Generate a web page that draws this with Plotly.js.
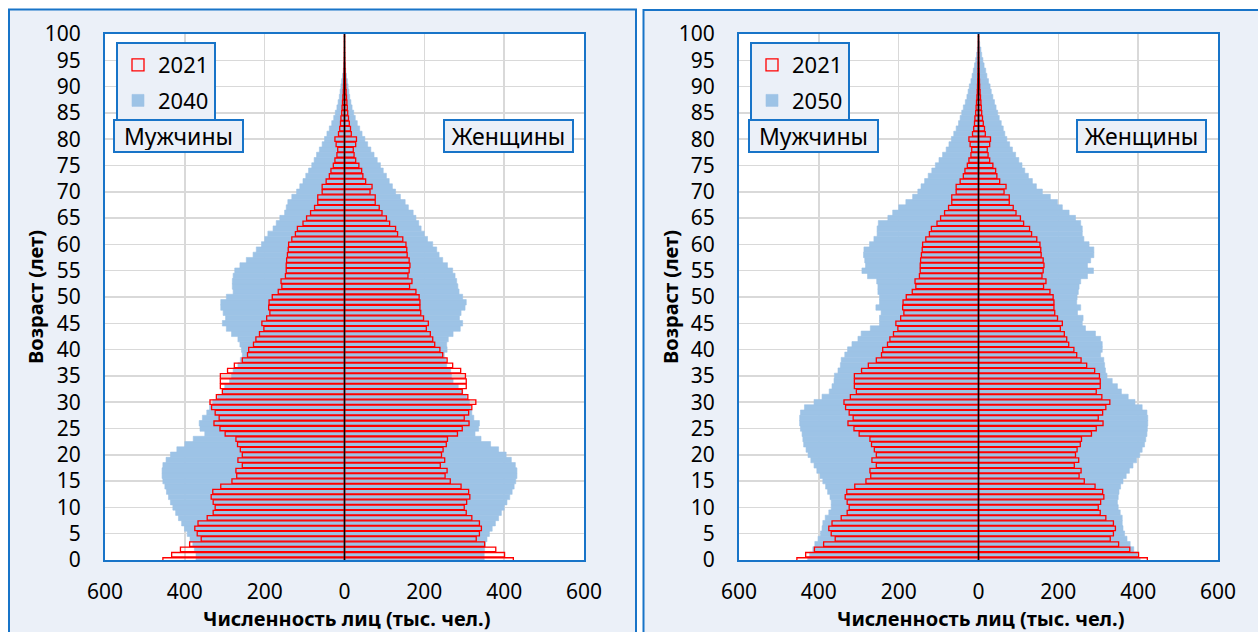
<!DOCTYPE html>
<html>
<head>
<meta charset="utf-8">
<script src="https://cdn.plot.ly/plotly-3.0.1.min.js"></script>
<style>
html,body{margin:0;padding:0;background:#ffffff;}
#chart{width:1258px;height:632px;}
</style>
</head>
<body>
<div id="chart"></div>
<script>
// ---------- DATA ----------
const ages = [0,1,2,3,4,5,6,7,8,9,10,11,12,13,14,15,16,17,18,19,20,21,22,23,24,25,26,27,28,29,30,31,32,33,34,35,36,37,38,39,40,41,42,43,44,45,46,47,48,49,50,51,52,53,54,55,56,57,58,59,60,61,62,63,64,65,66,67,68,69,70,71,72,73,74,75,76,77,78,79,80,81,82,83,84,85,86,87,88,89,90,91,92,93,94,95,96,97,98,99,100];

// 2021, thousand persons
const male2021 = [455,433,411,388,359,369,375,367,344,329,
  324,329,334,330,310,282,270,272,256,267,
  256,261,268,272,299,312,327,314,324,333,
  337,321,306,311,311,311,293,276,256,243,
  240,228,222,213,202,207,195,187,190,189,
  181,166,157,159,148,146,146,145,143,141,
  140,132,123,118,104,95,85,75,67,67,
  56,56,46,38,34,28,24,19,17,21,
  24,15,12,10,9,7,6,5,4,3,
  2.5,2,1.5,1,0.7,0.5,0.3,0.2,0.1,0.1,
  0.1];
const female2021 = [423,401,379,351,330,338,343,338,319,305,
  300,306,314,311,292,265,252,257,240,251,
  243,247,255,258,283,295,312,300,311,319,
  329,309,295,305,305,303,291,271,257,246,
  239,226,221,215,205,210,198,191,189,189,
  187,179,163,169,159,162,164,162,157,156,
  154,146,133,128,113,105,94,87,77,77,
  64,69,53,46,43,36,28,24,22,28,
  30,17,15,12,10,8,7,6,5,4,
  3,2.5,2,1.5,1,0.7,0.5,0.3,0.2,0.1,
  0.1];

// 2040
const male2040 = [372,372,376,380,387,394,401,408,416,423,
  430,436,441,446,450,455,457,457,455,447,
  436,420,400,379,350,362,364,356,345,338,
  330,318,305,300,288,283,279,267,261,256,
  258,262,267,283,296,306,298,304,310,310,
  296,279,281,281,279,275,262,246,229,221,
  208,200,192,179,171,162,150,146,142,132,
  120,112,104,97,90,82,76,70,63,56,
  50,44,38,32,27,23,19,16,13,11,
  9,7,5,3,2,1,0.5,0,0,0,
  0];
const female2040 = [350,350,351,353,357,363,370,378,386,393,
  400,407,414,420,425,429,432,432,428,418,
  405,386,366,342,327,336,338,324,319,316,
  313,306,296,285,272,268,266,256,254,250,
  257,256,260,272,290,296,288,292,302,305,
  296,287,284,281,277,271,258,246,237,231,
  221,208,200,192,186,179,172,160,152,140,
  128,120,112,105,97,90,82,74,66,58,
  51,44,38,32,27,23,19,16,13,11,
  9,7,5,3,2,1,0.5,0,0,0,
  0];

// 2050
const male2050 = [428,423,415,410,402,396,392,390,384,375,
  369,369,372,378,383,390,397,405,412,420,
  427,432,438,440,442,446,448,448,446,436,
  412,392,374,367,362,361,352,346,344,335,
  328,317,302,294,271,248,248,244,257,248,
  248,252,252,255,278,292,283,285,288,287,
  273,262,254,254,251,227,215,200,182,165,
  152,144,135,126,117,108,99,90,81,74,
  68,62,56,50,46,42,38,33,29,26,
  23,19,16,13,10,7,5,3,1.5,0.8,
  0.3];
const female2050 = [405,398,389,380,372,366,362,360,360,355,
  350,348,350,352,356,362,370,378,387,396,
  404,410,416,419,422,423,424,424,422,410,
  392,375,358,348,335,322,318,316,314,306,
  310,310,306,293,268,260,262,248,256,246,
  247,250,252,256,273,288,273,281,289,289,
  277,264,260,260,256,243,227,210,198,180,
  160,145,135,125,116,109,101,93,85,78,
  71,66,62,57,52,48,44,40,36,32,
  29,25,21,18,14,11,8,6,3,1.5,
  0.5];

const xTickVals = [-600,-400,-200,0,200,400,600];
const xTickText = ['600','400','200','0','200','400','600'];
const legendCurrent = '2021';
const legendFuture = ['2040','2050'];
const sexLabels = ['Мужчины','Женщины'];
const xTitle = 'Численность лиц (тыс. чел.)';
const yTitle = 'Возраст (лет)';

// ---------- STYLE / LAYOUT ----------
const W = 1258, H = 632;
const px = v => v / W;
const py = v => 1 - v / H;
const FONT = '"Noto Sans", "DejaVu Sans", sans-serif';
const BLUE = '#9DC3E6', RED = '#FF0000', FRAME = '#1874C8', PANEL = '#EBF0F8';

function pyramid(male, female) {
  return { x: male.map(v => -v).concat(female), y: ages.concat(ages) };
}

const traces = [];
function addPanel(xa, ya, leg, futName, mF, fF) {
  const fut = pyramid(mF, fF);
  const cur = pyramid(male2021, female2021);
  traces.push({
    type: 'bar', orientation: 'h', x: fut.x, y: fut.y, width: 1.04,
    name: futName, xaxis: xa, yaxis: ya, legend: leg, legendrank: 2, legendgroup: 'f' + xa,
    marker: { color: BLUE, line: { color: BLUE, width: 0.6 } }, hoverinfo: 'skip'
  });
  traces.push({
    type: 'bar', orientation: 'h', x: cur.x, y: cur.y, width: 0.86,
    name: legendCurrent, xaxis: xa, yaxis: ya, legend: leg, legendrank: 1, legendgroup: 'c' + xa,
    marker: { color: 'rgba(0,0,0,0)', line: { color: RED, width: 1.3 } }, hoverinfo: 'skip'
  });
}
addPanel('x', 'y', 'legend', legendFuture[0], male2040, female2040);
addPanel('x2', 'y2', 'legend2', legendFuture[1], male2050, female2050);

const tickFont = { family: FONT, size: 21, color: '#000' };
function xAxis(dom, anchor) {
  return {
    domain: dom, anchor: anchor, range: [-600, 600], tickmode: 'array',
    tickvals: xTickVals, ticktext: xTickText,
    showgrid: true, gridcolor: '#D9D9D9', gridwidth: 1.5, zeroline: false,
    showline: true, mirror: true, linecolor: FRAME, linewidth: 2,
    ticks: 'outside', ticklen: 12, tickcolor: 'rgba(0,0,0,0)',
    tickfont: tickFont, fixedrange: true
  };
}
function yAxis(anchor) {
  return {
    domain: [py(560), py(34)], anchor: anchor, range: [0, 100],
    tickmode: 'linear', tick0: 0, dtick: 5,
    showgrid: true, gridcolor: '#D9D9D9', gridwidth: 1.5, zeroline: false,
    showline: true, mirror: true, linecolor: FRAME, linewidth: 2,
    ticks: 'outside', ticklen: 18, tickcolor: 'rgba(0,0,0,0)',
    tickfont: tickFont, fixedrange: true
  };
}

function legendBox(xPix) {
  return {
    x: px(xPix), y: py(42), xanchor: 'left', yanchor: 'top', xref: 'paper', yref: 'paper',
    bgcolor: PANEL, bordercolor: FRAME, borderwidth: 2,
    font: { family: FONT, size: 22, color: '#000' }, tracegroupgap: 4,
    itemclick: false, itemdoubleclick: false
  };
}

function sexBox(text, cx) {
  return {
    text: text, x: px(cx), y: py(136), xref: 'paper', yref: 'paper',
    xanchor: 'center', yanchor: 'middle', showarrow: false,
    font: { family: FONT, size: 23, color: '#000' },
    bgcolor: PANEL, bordercolor: FRAME, borderwidth: 2, borderpad: 1,
    width: 125, height: 28
  };
}

const titleFont = { family: FONT, size: 20, color: '#000' };
const annotations = [
  sexBox(sexLabels[0], 178.5), sexBox(sexLabels[1], 508.5),
  sexBox(sexLabels[0], 813.5), sexBox(sexLabels[1], 1141.5),
  { text: '<b>' + xTitle + '</b>', x: px(346), y: py(618), xref: 'paper', yref: 'paper',
    showarrow: false, xanchor: 'center', yanchor: 'middle', font: titleFont },
  { text: '<b>' + xTitle + '</b>', x: px(980), y: py(618), xref: 'paper', yref: 'paper',
    showarrow: false, xanchor: 'center', yanchor: 'middle', font: titleFont },
  { text: '<b>' + yTitle + '</b>', x: px(35), y: py(297), xref: 'paper', yref: 'paper', textangle: -90,
    showarrow: false, xanchor: 'center', yanchor: 'middle', font: titleFont },
  { text: '<b>' + yTitle + '</b>', x: px(670), y: py(297), xref: 'paper', yref: 'paper', textangle: -90,
    showarrow: false, xanchor: 'center', yanchor: 'middle', font: titleFont }
];

const shapes = [
  // panel backgrounds
  { type: 'rect', xref: 'paper', yref: 'paper', x0: px(9), x1: px(636), y0: py(660), y1: py(9.5),
    fillcolor: PANEL, line: { color: FRAME, width: 2 }, layer: 'below' },
  { type: 'rect', xref: 'paper', yref: 'paper', x0: px(643.5), x1: px(1275), y0: py(660), y1: py(10),
    fillcolor: PANEL, line: { color: FRAME, width: 2 }, layer: 'below' },
  // plot area backgrounds
  { type: 'rect', xref: 'x domain', yref: 'y domain', x0: 0, x1: 1, y0: 0, y1: 1,
    fillcolor: '#ffffff', line: { width: 0 }, layer: 'below' },
  { type: 'rect', xref: 'x2 domain', yref: 'y2 domain', x0: 0, x1: 1, y0: 0, y1: 1,
    fillcolor: '#ffffff', line: { width: 0 }, layer: 'below' },
  // central axis lines
  { type: 'line', xref: 'x', yref: 'y domain', x0: 0, x1: 0, y0: 0, y1: 1,
    line: { color: '#000000', width: 1.5 }, layer: 'above' },
  { type: 'line', xref: 'x2', yref: 'y2 domain', x0: 0, x1: 0, y0: 0, y1: 1,
    line: { color: '#000000', width: 1.5 }, layer: 'above' }
];

const layout = {
  width: W, height: H, margin: { l: 0, r: 0, t: 0, b: 0 },
  paper_bgcolor: '#ffffff', plot_bgcolor: '#ffffff',
  font: { family: FONT, color: '#000' },
  barmode: 'overlay', showlegend: true,
  xaxis: xAxis([px(105), px(584)], 'y'),
  yaxis: yAxis('x'),
  xaxis2: xAxis([px(739), px(1218)], 'y2'),
  yaxis2: yAxis('x2'),
  legend: legendBox(116),
  legend2: legendBox(750),
  shapes: shapes,
  annotations: annotations
};

Plotly.newPlot('chart', traces, layout, { staticPlot: true, displayModeBar: false });
</script>
</body>
</html>
